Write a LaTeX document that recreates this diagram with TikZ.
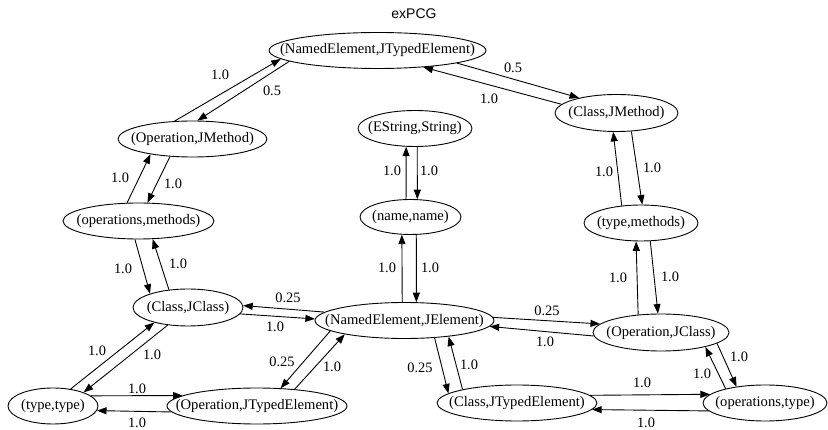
\documentclass[tikz,border=0pt]{standalone}
\usepackage{fontspec}
\setmainfont{Liberation Serif}
\newfontfamily\titlefont{Liberation Sans}
\usetikzlibrary{arrows.meta,shapes.geometric}
\tikzset{
  st/.style={ellipse, draw, line width=0.9pt, inner sep=0pt, font=\fontsize{14.6}{16}\selectfont},
  lbl/.style={font=\fontsize{14.4}{16}\selectfont, inner sep=0pt},
  ed/.style={line width=0.9pt, -{Triangle[length=9.5pt,width=7pt]}},
}
\newcommand{\nt}[1]{\makebox[0pt]{#1}}
\begin{document}
\begin{tikzpicture}[x=1pt,y=-1pt]
\useasboundingbox (0,0) rectangle (828,430);
\node[font=\titlefont\fontsize{14}{16}\selectfont] (title) at (414,14) {exPCG};
% nodes
\node[st, minimum width=217pt, minimum height=36pt] (nejte) at (377.5,50.5) {\nt{(NamedElement,JTypedElement)}};
\node[st, minimum width=149pt, minimum height=36pt] (opjm) at (192.5,139) {\nt{(Operation,JMethod)}};
\node[st, minimum width=114pt, minimum height=36pt] (estr) at (415,128.5) {\nt{(EString,String)}};
\node[st, minimum width=123pt, minimum height=37pt] (cljm) at (616.5,113) {\nt{(Class,JMethod)}};
\node[st, minimum width=151pt, minimum height=36pt] (opsm) at (138.5,221) {\nt{(operations,methods)}};
\node[st, minimum width=101pt, minimum height=35pt] (nn) at (410.5,217) {\nt{(name,name)}};
\node[st, minimum width=114pt, minimum height=36pt] (tm) at (641,223) {\nt{(type,methods)}};
\node[st, minimum width=110pt, minimum height=37pt] (cjc) at (188,307.5) {\nt{(Class,JClass)}};
\node[st, minimum width=179pt, minimum height=36pt] (neje) at (404.5,320.5) {\nt{(NamedElement,JElement)}};
\node[st, minimum width=136pt, minimum height=37pt] (opjc) at (661,332.5) {\nt{(Operation,JClass)}};
\node[st, minimum width=90pt, minimum height=36pt] (tt) at (53,406) {\nt{(type,type)}};
\node[st, minimum width=180pt, minimum height=36pt] (opjte) at (257,406) {\nt{(Operation,JTypedElement)}};
\node[st, minimum width=160pt, minimum height=36pt] (cjte) at (517,403) {\nt{(Class,JTypedElement)}};
\node[st, minimum width=124pt, minimum height=36pt] (opst) at (765,403) {\nt{(operations,type)}};
% edges
\draw[ed] (opjm.135) -- (nejte.185);
\draw[ed] (nejte.187.6) -- (opjm.75.9);
\draw[ed] (nejte.-9.5) -- (cljm.158.6);
\draw[ed] (cljm.171.8) -- (nejte.-20.2);
\draw[ed] (cljm.-51.1) -- (tm.86.8);
\draw[ed] (tm.138.2) -- (cljm.-100.7);
\draw[ed] (opjm.-142.6) -- (opsm.64.6);
\draw[ed] (opsm.122.9) -- (opjm.-160.2);
\draw[ed] (estr.-83.7) -- (nn.69.5);
\draw[ed] (nn.104.5) -- (estr.-116.8);
\draw[ed] (nn.-72.4) -- (neje.57.2);
\draw[ed] (neje.97.9) -- (nn.-116.2);
\draw[ed] (opsm.-101) -- (cjc.160.6);
\draw[ed] (cjc.137.5) -- (opsm.-52.7);
\draw[ed] (neje.174) -- (cjc.2.6);
\draw[ed] (cjc.-7.2) -- (neje.179);
\draw[ed] (tt.44.5) -- (cjc.-156.9);
\draw[ed] (cjc.-139.3) -- (tt.24.1);
\draw[ed] (tt.15) -- (opjte.172.4);
\draw[ed] (opjte.-176.7) -- (tt.-6.6);
\draw[ed] (neje.-172) -- (opjte.37.1);
\draw[ed] (opjte.24.6) -- (neje.-167);
\draw[ed] (neje.-30.9) -- (cjte.172);
\draw[ed] (cjte.166.2) -- (neje.-20.4);
\draw[ed] (neje.2.3) -- (opjc.172);
\draw[ed] (opjc.-177) -- (neje.-4.5);
\draw[ed] (opjc.142.9) -- (tm.-105.6);
\draw[ed] (tm.-63.2) -- (opjc.99.2);
\draw[ed] (opjc.-11.2) -- (opst.150);
\draw[ed] (opst.160.3) -- (opjc.-18.4);
\draw[ed] (cjte.6.4) -- (opst.171.8);
\draw[ed] (opst.-172.9) -- (cjte.-5.4);
% labels
\node[lbl] (l1) at (220,75) {1.0};
\node[lbl] (l2) at (272,91) {0.5};
\node[lbl] (l3) at (513,68) {0.5};
\node[lbl] (l4) at (489,99) {1.0};
\node[lbl] (l5) at (652,168) {1.0};
\node[lbl] (l6) at (604,172) {1.0};
\node[lbl] (l7) at (173,184) {1.0};
\node[lbl] (l8) at (120,178) {1.0};
\node[lbl] (l9) at (429,171) {1.0};
\node[lbl] (l10) at (392,171) {1.0};
\node[lbl] (l11) at (430,268) {1.0};
\node[lbl] (l12) at (387,268) {1.0};
\node[lbl] (l13) at (123,269) {1.0};
\node[lbl] (l14) at (178,264) {1.0};
\node[lbl] (l15) at (288,298) {0.25};
\node[lbl] (l16) at (275,327) {1.0};
\node[lbl] (l17) at (97,351) {1.0};
\node[lbl] (l18) at (152,355) {1.0};
\node[lbl] (l19) at (137,389) {1.0};
\node[lbl] (l20) at (137,423) {1.0};
\node[lbl] (l21) at (282,362) {0.25};
\node[lbl] (l22) at (332,367) {1.0};
\node[lbl] (l23) at (420,368) {0.25};
\node[lbl] (l24) at (469,365) {1.0};
\node[lbl] (l25) at (547,311) {0.25};
\node[lbl] (l26) at (545,342) {1.0};
\node[lbl] (l27) at (618,278) {1.0};
\node[lbl] (l28) at (670,277) {1.0};
\node[lbl] (l29) at (739,357) {1.0};
\node[lbl] (l30) at (702,374) {1.0};
\node[lbl] (l31) at (642,383) {1.0};
\node[lbl] (l32) at (646,423) {1.0};
\end{tikzpicture}
\end{document}
